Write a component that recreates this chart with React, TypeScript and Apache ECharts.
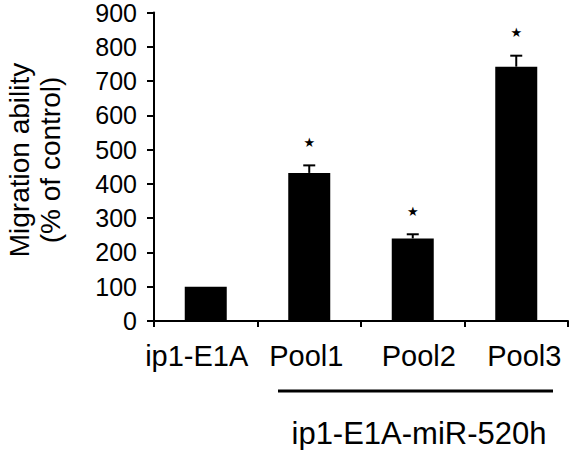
import React, { useEffect, useRef } from "react";
import * as echarts from "echarts";

const categories = ["ip1-E1A", "Pool1", "Pool2", "Pool3"];
const values = [100, 432, 241, 742];
const errors = [0, 22, 12, 32];
const significant = [false, true, true, true];
const yTicks = { min: 0, max: 900, interval: 100 };
const yName = "Migration ability\n(% of control)";
const groupLabel = "ip1-E1A-miR-520h";

const FONT = "Liberation Sans, Arial, sans-serif";

export default function App() {
  const ref = useRef<HTMLDivElement>(null);
  useEffect(() => {
    if (!ref.current) return;
    const chart = echarts.init(ref.current, null, { renderer: "svg" });
    const errData = categories.map((c, i) => [i, values[i], errors[i], significant[i] ? 1 : 0]);
    chart.setOption({
      animation: false,
      backgroundColor: "#ffffff",
      grid: { left: 154, right: 3, top: 11, bottom: 129, containLabel: false },
      xAxis: {
        type: "category",
        data: categories,
        axisLine: { lineStyle: { color: "#000", width: 2 } },
        axisTick: { show: true, length: 6, lineStyle: { color: "#000", width: 2 } },
        axisLabel: {
          interval: 0,
          color: "#000",
          fontFamily: FONT,
          fontSize: 29,
          margin: 20,
          formatter: (v: string) => `{${v === "ip1-E1A" ? "a" : v === "Pool1" ? "b" : v === "Pool2" ? "c" : "d"}|${v}}`,
          rich: {
            a: { fontSize: 29, fontFamily: FONT, color: "#000", padding: [0, 18, 0, 0] },
            b: { fontSize: 29, fontFamily: FONT, color: "#000", padding: [0, 6, 0, 0] },
            c: { fontSize: 29, fontFamily: FONT, color: "#000", padding: [0, 0, 0, 12] },
            d: { fontSize: 29, fontFamily: FONT, color: "#000", padding: [0, 0, 0, 16] },
          },
        },
      },
      yAxis: {
        type: "value",
        min: yTicks.min,
        max: yTicks.max,
        interval: yTicks.interval,
        splitLine: { show: false },
        axisLine: { show: true, lineStyle: { color: "#000", width: 2 } },
        axisTick: { show: true, length: 7, lineStyle: { color: "#000", width: 2 } },
        axisLabel: { color: "#000", fontFamily: FONT, fontSize: 25, margin: 17 },
      },
      series: [
        {
          type: "bar",
          data: values,
          barWidth: 42,
          itemStyle: { color: "#000" },
        },
        {
          type: "custom",
          data: errData,
          z: 10,
          renderItem: (params: any, api: any) => {
            const idx = api.value(0);
            const v = api.value(1);
            const e = api.value(2);
            const s = api.value(3);
            const base = api.coord([idx, v]);
            const top = api.coord([idx, v + e]);
            const children: any[] = [];
            if (e > 0) {
              children.push({
                type: "line",
                shape: { x1: base[0], y1: base[1], x2: top[0], y2: top[1] },
                style: { stroke: "#000", lineWidth: 2 },
              });
              children.push({
                type: "line",
                shape: { x1: top[0] - 6, y1: top[1], x2: top[0] + 6, y2: top[1] },
                style: { stroke: "#000", lineWidth: 2 },
              });
            }
            if (s) {
              children.push({
                type: "text",
                style: {
                  text: "★",
                  x: top[0],
                  y: top[1] - 23,
                  textAlign: "center",
                  textVerticalAlign: "middle",
                  fontSize: 13,
                  fontFamily: "DejaVu Sans",
                  fill: "#000",
                },
              });
            }
            return { type: "group", children };
          },
        },
      ],
      graphic: [
        {
          type: "text",
          x: 35,
          y: 160,
          rotation: Math.PI / 2,
          style: {
            text: yName,
            textAlign: "center",
            textVerticalAlign: "middle",
            fontSize: 28,
            lineHeight: 31,
            fontFamily: FONT,
            fill: "#000",
          },
        },
        {
          type: "line",
          shape: { x1: 278, y1: 391, x2: 553, y2: 391 },
          style: { stroke: "#000", lineWidth: 3 },
        },
        {
          type: "text",
          x: 419,
          y: 433,
          style: {
            text: groupLabel,
            textAlign: "center",
            textVerticalAlign: "middle",
            fontSize: 31,
            fontFamily: FONT,
            fill: "#000",
          },
        },
      ],
    });
    return () => chart.dispose();
  }, []);
  return <div ref={ref} style={{ width: 571, height: 450, position: "absolute", left: 0, top: 0 }} />;
}
